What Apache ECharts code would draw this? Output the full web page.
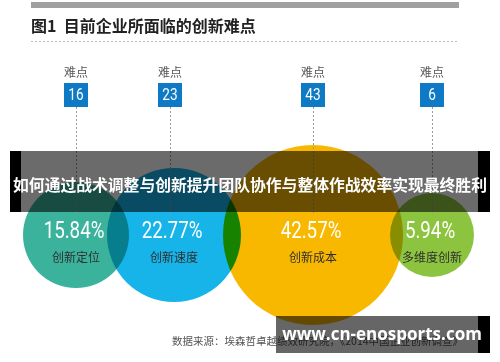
<!DOCTYPE html>
<html><head><meta charset="utf-8">
<script src="https://cdn.jsdelivr.net/npm/echarts@6/dist/echarts.min.js"></script>
<style>html,body{margin:0;padding:0;background:#fff}#c{width:500px;height:362px}</style>
</head><body><div id="c"></div>
<script>
// ---- data ----
const categories = ['创新定位', '创新速度', '创新成本', '多维度创新'];
const difficultyCounts = [16, 23, 43, 6];
const sharePercent = [15.84, 22.77, 42.57, 5.94];
const difficultyLabel = '难点';
const titleText = '图1  目前企业所面临的创新难点';
const sourceText = '数据来源：埃森哲卓越绩效研究院，《2014中国企业创新调查》';
const bannerText = '如何通过战术调整与创新提升团队协作与整体作战效率实现最终胜利';
const watermarkText = 'www.cn-enosports.com';

// ---- layout / style ----
const bubbleColors = ['#3bb39c', '#16b4e9', '#f9b800', '#8cc43f'];
const bubbleRadius = [53, 67, 90, 42];
const pairOverlap = [22, 18, 13];
const leftMargin = 23, bubbleY = 235;
const centersX = [];
bubbleRadius.forEach((r, i) => {
  centersX.push(i === 0 ? leftMargin + r : centersX[i - 1] + bubbleRadius[i - 1] + r - pairOverlap[i - 1]);
});
const markerOffset = [0, -4, 0, 0];

const bubbleData = categories.map((c, i) => [centersX[i], bubbleY, sharePercent[i], i]);
const markerData = categories.map((c, i) => [centersX[i] + markerOffset[i], difficultyCounts[i]]);

const chart = echarts.init(document.getElementById('c'), null, {renderer: 'canvas'});
const cjk = '"Noto Sans CJK SC","Noto Sans",sans-serif';

chart.setOption({
  backgroundColor: '#ffffff',
  animation: false,
  grid: {left: 0, right: 0, top: 0, bottom: 0},
  xAxis: {type: 'value', min: 0, max: 500, show: false},
  yAxis: {type: 'value', min: 0, max: 362, inverse: true, show: false},
  series: [
    {
      type: 'scatter',
      data: bubbleData,
      symbol: 'circle',
      symbolSize: (v, p) => bubbleRadius[p.dataIndex] * 2,
      itemStyle: {color: p => bubbleColors[p.dataIndex], opacity: 1},
      blendMode: 'multiply',
      silent: true,
      z: 1
    },
    {
      type: 'custom',
      data: bubbleData,
      silent: true,
      z: 3,
      renderItem: (params, api) => {
        const pt = api.coord([api.value(0), api.value(1)]);
        const i = params.dataIndex;
        return {
          type: 'group',
          children: [
            {type: 'text', x: pt[0] - 2, y: pt[1] - 3, scaleX: 0.78,
              style: {text: api.value(2).toFixed(2) + '%', fill: '#ffffff',
                font: '400 24px Roboto', align: 'center', verticalAlign: 'middle'}},
            {type: 'text', x: pt[0], y: pt[1] + 22,
              style: {text: categories[i], fill: '#2f2f2f',
                font: '12px ' + cjk, align: 'center', verticalAlign: 'middle'}}
          ]
        };
      }
    },
    {
      type: 'custom',
      data: markerData,
      silent: true,
      z: 2,
      renderItem: (params, api) => {
        const x = api.coord([api.value(0), 0])[0];
        const boxTop = api.coord([0, 83])[1];
        const boxBottom = api.coord([0, 107])[1];
        const lineEnd = api.coord([0, 215])[1];
        return {
          type: 'group',
          children: [
            {type: 'line', shape: {x1: x + 0.5, y1: boxBottom, x2: x + 0.5, y2: lineEnd},
              style: {stroke: '#9a9a9a', lineWidth: 1, lineDash: [2, 2]}},
            {type: 'rect', shape: {x: x - 12, y: boxTop, width: 24, height: boxBottom - boxTop},
              style: {fill: '#0e7ac6'}},
            {type: 'text', x: x, y: (boxTop + boxBottom) / 2 + 1, scaleX: 0.8,
              style: {text: String(api.value(1)), fill: '#ffffff',
                font: '400 17px Roboto', align: 'center', verticalAlign: 'middle'}},
            {type: 'text', x: x, y: 72,
              style: {text: difficultyLabel, fill: '#555555',
                font: '12px ' + cjk, align: 'center', verticalAlign: 'middle'}}
          ]
        };
      }
    }
  ],
  graphic: [
    {type: 'rect', z: 10, shape: {x: 31, y: 2, width: 428, height: 6}, style: {fill: '#a0a0a0'}},
    {type: 'text', z: 10, x: 31, y: 26,
      style: {text: titleText, fill: '#222222', font: 'bold 16px ' + cjk, verticalAlign: 'middle'}},
    {type: 'line', z: 10, shape: {x1: 31, y1: 41.5, x2: 459, y2: 41.5},
      style: {stroke: '#bbbbbb', lineWidth: 1, lineDash: [2, 2]}},
    {type: 'text', z: 10, x: 172, y: 341,
      style: {text: sourceText, fill: '#555555', font: '10.5px ' + cjk, verticalAlign: 'middle'}},
    // banner overlay
    {type: 'rect', z: 50, shape: {x: 10, y: 151, width: 480, height: 61}, style: {fill: 'rgba(0,0,0,0.58)'}},
    {type: 'rect', z: 51, shape: {x: 10, y: 151, width: 11, height: 61}, style: {fill: '#000000'}},
    {type: 'rect', z: 51, shape: {x: 478, y: 151, width: 12, height: 61}, style: {fill: '#000000'}},
    {type: 'text', z: 52, x: 250, y: 185,
      style: {text: bannerText, fill: '#ffffff', font: 'bold 15.8px ' + cjk, align: 'center', verticalAlign: 'middle'}},
    // watermark
    {type: 'rect', z: 50, shape: {x: 276, y: 316, width: 202, height: 37}, style: {fill: 'rgba(0,0,0,0.6)'}},
    {type: 'rect', z: 51, shape: {x: 478, y: 316, width: 12, height: 37}, style: {fill: '#000000'}},
    {type: 'text', z: 52, x: 382, y: 335,
      style: {text: watermarkText, fill: '#ffffff', font: 'bold 17px "Open Sans"', align: 'center', verticalAlign: 'middle'}}
  ]
});
</script>
</body></html>
